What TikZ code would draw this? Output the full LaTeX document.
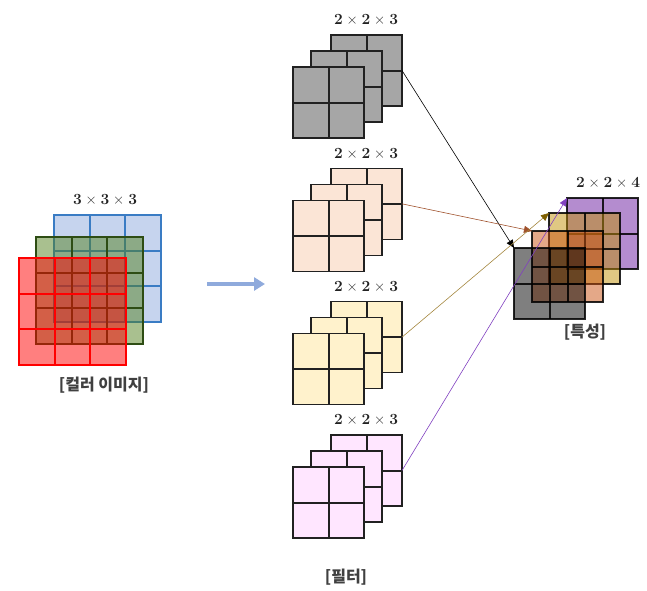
\documentclass[tikz,border=0pt]{standalone}
\usepackage{fontspec}
\newfontfamily\kr{Noto Sans CJK KR}
\usetikzlibrary{arrows.meta,calc}
\definecolor{blueF}{HTML}{C6D4EE}
\definecolor{blueS}{HTML}{3A7CC4}
\definecolor{greenF}{HTML}{53811F}
\definecolor{greenS}{HTML}{2E4D14}
\definecolor{redF}{HTML}{FF0000}
\definecolor{grayF}{HTML}{A6A6A6}
\definecolor{peachF}{HTML}{FBE5D6}
\definecolor{yellowF}{HTML}{FFF2CC}
\definecolor{pinkF}{HTML}{FFE6FF}
\definecolor{purpF}{HTML}{B48CCF}
\definecolor{goldF}{HTML}{C19107}
\definecolor{orangeF}{HTML}{C95111}
\definecolor{brownA}{HTML}{A0522D}
\definecolor{goldA}{HTML}{A4873F}
\definecolor{goldH}{HTML}{7F6000}
\definecolor{purpA}{HTML}{8040C0}
\definecolor{bigA}{HTML}{8FAADC}
\definecolor{txt}{HTML}{222222}
\definecolor{krtxt}{HTML}{404040}
\newcommand{\dimtxt}[3]{{\bfseries #1}\hspace{0.25em}×\hspace{0.25em}{\bfseries #2}\hspace{0.25em}×\hspace{0.25em}{\bfseries #3}}
\newcommand{\gridtwo}[2]{\draw[gline,#2] (#1.north) -- (#1.south) (#1.west) -- (#1.east);}
\newcommand{\gridthree}[2]{\draw[gline,#2]
  ($(#1.north west)!1/3!(#1.north east)$) -- ($(#1.south west)!1/3!(#1.south east)$)
  ($(#1.north west)!2/3!(#1.north east)$) -- ($(#1.south west)!2/3!(#1.south east)$)
  ($(#1.north west)!1/3!(#1.south west)$) -- ($(#1.north east)!1/3!(#1.south east)$)
  ($(#1.north west)!2/3!(#1.south west)$) -- ($(#1.north east)!2/3!(#1.south east)$);}
\begin{document}
\begin{tikzpicture}[x=1pt,y=-1pt,
  layer/.style={rectangle,anchor=north west,inner sep=0pt,outer sep=0pt,line width=1.6pt},
  gline/.style={line width=2pt},
  big/.style={layer,minimum size=107pt},
  small/.style={layer,minimum size=71pt},
  filt/.style={small,draw=black!87,fill=#1},
  feat/.style={small,draw=black,draw opacity=0.85},
  numlab/.style={text=txt,font=\fontsize{15.5}{18}\selectfont,inner sep=0pt},
  krlab/.style={text=krtxt,font=\kr\bfseries\fontsize{16}{19}\selectfont,inner sep=0pt},
  conn/.style={line width=0.6pt,-{Triangle[length=8pt,width=7pt]}}
]
\useasboundingbox (0,0) rectangle (647,590);

% colour image
\node[big,draw=blueS,fill=blueF] (cb) at (54,215) {};
\gridthree{cb}{blueS}
\node[big,draw=greenS,fill=greenF,fill opacity=0.5] (cg) at (36,237) {};
\gridthree{cg}{greenS}
\node[big,draw=redF,fill=redF,fill opacity=0.5] (cr) at (19,258) {};
\gridthree{cr}{redF}
\node[numlab] (lc) at (105,200) {\dimtxt{3}{3}{3}};
\node[krlab] (kc) at (104,385) {[컬러 이미지]};

% big arrow
\coordinate (ba) at (207,284);
\coordinate (bb) at (265,284);
\draw[bigA,line width=4pt,-{Triangle[length=11pt,width=13pt]}] (ba) -- (bb);

% filters
\foreach \k/\c in {0/grayF,1/peachF,2/yellowF,3/pinkF}{
  \pgfmathsetmacro{\dy}{133.33*\k}
  \node[filt=\c] (f\k b) at (331,35+\dy) {};
  \gridtwo{f\k b}{black!87}
  \node[filt=\c] (f\k m) at (311,51+\dy) {};
  \gridtwo{f\k m}{black!87}
  \node[filt=\c] (f\k f) at (293,67+\dy) {};
  \gridtwo{f\k f}{black!87}
  \node[numlab] (lf\k) at (366,20+\dy) {\dimtxt{2}{2}{3}};
}
\node[krlab] (kf) at (346,577) {[필터]};

% feature map
\node[feat,fill=purpF] (mp) at (567,198) {};
\gridtwo{mp}{black,opacity=0.85}
\node[feat,fill=goldF,fill opacity=0.5] (my) at (549,213) {};
\gridtwo{my}{black,opacity=0.85}
\node[feat,fill=orangeF,fill opacity=0.5] (mo) at (532,231) {};
\gridtwo{mo}{black,opacity=0.85}
\node[feat,fill=black,fill opacity=0.5] (mg) at (514,248) {};
\gridtwo{mg}{black,opacity=0.85}
\node[numlab] (lm) at (608,182) {\dimtxt{2}{2}{4}};
\node[krlab] (km) at (585,332) {[특성]};

% connectors
\draw[conn,black] (f0b.east) -- (mg.north west);
\draw[conn,brownA] (f1b.east) -- (mo.north west);
\draw[conn,goldA,-{Triangle[length=8pt,width=7pt,color=goldH]}] (f2b.east) -- (my.north west);
\draw[conn,purpA] (f3b.east) -- (mp.north west);
\end{tikzpicture}
\end{document}
